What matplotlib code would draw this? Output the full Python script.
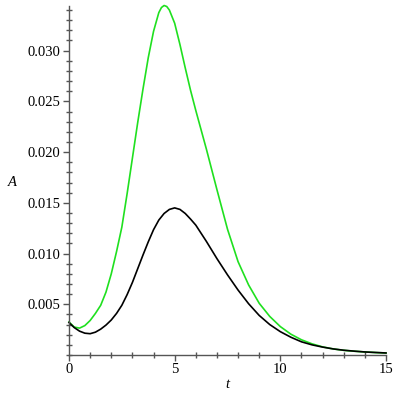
import matplotlib
matplotlib.use("Agg")
import matplotlib.pyplot as plt
from matplotlib.ticker import MultipleLocator, FixedLocator

# data (A values in units of 1e-3)
t_black = [0.0, 0.25, 0.5, 0.75, 1.0, 1.25, 1.5, 1.75, 2.0, 2.25, 2.5, 2.75, 3.0, 3.25, 3.5,
           3.75, 4.0, 4.25, 4.5, 4.75, 5.0, 5.25, 5.5, 5.75, 6.0, 6.5, 7.0, 7.5, 8.0, 8.5,
           9.0, 9.5, 10.0, 10.5, 11.0, 11.5, 12.0, 12.5, 13.0, 13.5, 14.0, 14.5, 15.0]
a_black = [3.2, 2.7, 2.35, 2.15, 2.1, 2.25, 2.55, 2.95, 3.45, 4.1, 4.9, 5.95, 7.15, 8.5, 9.85,
           11.15, 12.35, 13.3, 13.95, 14.35, 14.5, 14.35, 13.95, 13.4, 12.8, 11.2, 9.5, 7.9, 6.4, 5.05,
           3.9, 3.0, 2.3, 1.75, 1.3, 1.0, 0.78, 0.6, 0.47, 0.38, 0.3, 0.25, 0.2]

t_green = [0.0, 0.25, 0.5, 0.75, 1.0, 1.25, 1.5, 1.75, 2.0, 2.25, 2.5, 2.75, 3.0, 3.25, 3.5,
           3.75, 4.0, 4.25, 4.375, 4.5, 4.625, 4.75, 5.0, 5.25, 5.5, 5.75, 6.0, 6.25, 6.5, 6.75,
           7.0, 7.5, 8.0, 8.5, 9.0, 9.5, 10.0, 10.5, 11.0, 11.5, 12.0, 12.5, 13.0, 13.5, 14.0,
           14.5, 15.0]
a_green = [3.25, 2.75, 2.65, 2.9, 3.4, 4.1, 4.9, 6.2, 8.0, 10.2, 12.6, 15.9, 19.4, 22.9, 26.2,
           29.3, 31.9, 33.75, 34.25, 34.45, 34.35, 34.0, 32.7, 30.6, 28.3, 26.1, 24.1, 22.2, 20.3, 18.3,
           16.3, 12.4, 9.2, 6.9, 5.1, 3.8, 2.8, 2.05, 1.5, 1.1, 0.8, 0.6, 0.46, 0.37, 0.3,
           0.24, 0.2]

x_ticks = [0, 5, 10, 15]
y_ticks = [0.005, 0.010, 0.015, 0.020, 0.025, 0.030]
y_labels = ["0.005", "0.010", "0.015", "0.020", "0.025", "0.030"]

fig = plt.figure(figsize=(4, 4), dpi=100)
ax = fig.add_axes([69/400, 45/400, (386-69)/400, (355-6)/400])

ax.plot(t_green, [v*1e-3 for v in a_green], color="#1fe01f", lw=1.2, clip_on=False)
ax.plot(t_black, [v*1e-3 for v in a_black], color="black", lw=1.2, clip_on=False)

ax.set_xlim(0, 15)
ax.set_ylim(0, 0.0344)

for s in ["top", "right"]:
    ax.spines[s].set_visible(False)
for s in ["left", "bottom"]:
    ax.spines[s].set_color("#555555")
    ax.spines[s].set_linewidth(1.0)

ax.xaxis.set_major_locator(FixedLocator(x_ticks))
ax.xaxis.set_minor_locator(MultipleLocator(1))
ax.yaxis.set_major_locator(FixedLocator(y_ticks))
ax.set_yticklabels(y_labels)
ax.yaxis.set_minor_locator(MultipleLocator(0.001))

serif = ["Liberation Serif", "DejaVu Serif"]
ax.tick_params(which="major", direction="out", length=4, width=1, color="#555555",
               labelsize=10.5, pad=2)
ax.tick_params(which="minor", direction="inout", length=4, width=1, color="#555555")
for lab in ax.get_xticklabels() + ax.get_yticklabels():
    lab.set_fontfamily(serif)
    lab.set_color("black")

fig.text(12/400, 1 - 182/400, "A", family=serif, style="italic", fontsize=10.5,
         ha="center", va="center")
fig.text(227/400, 1 - 385/400, "t", family=serif, style="italic", fontsize=10.5,
         ha="center", va="center")

fig.savefig("out.png", dpi=100)
